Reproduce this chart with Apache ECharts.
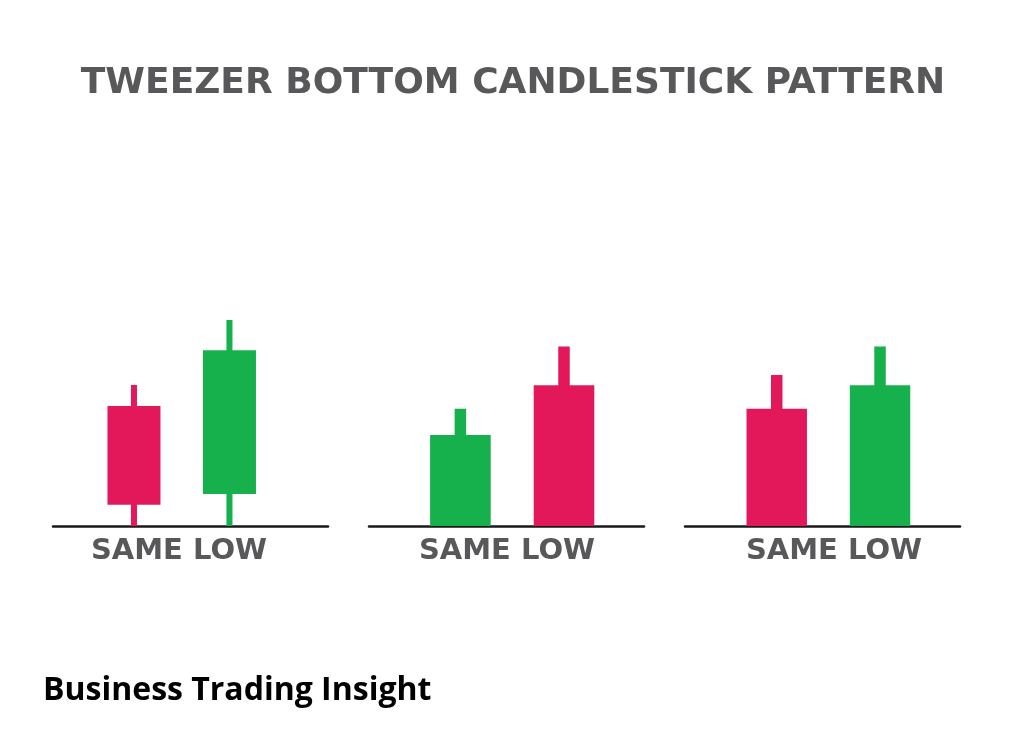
<!DOCTYPE html>
<html>
<head>
<meta charset="utf-8">
<title>Tweezer Bottom Candlestick Pattern</title>
<script src="https://cdn.jsdelivr.net/npm/echarts@6/dist/echarts.min.js"></script>
<style>
	html, body { margin: 0; padding: 0; background: #fff; }
	#chart { width: 1024px; height: 731px; }
</style>
</head>
<body>
<div id="chart"></div>
<script>
// candle slots on each panel's x axis
var candleSlots = [1, 2];

// panel 1: bearish then bullish, both wicks reach the same low
var panel1Open = [40, 10.7];
var panel1Close = [7.1, 58.6];
var panel1Low = [0, 0];
var panel1High = [47, 68.7];

// panel 2: bullish then bearish, bodies sit on the low
var panel2Open = [0, 46.9];
var panel2Close = [30.3, 0];
var panel2Low = [0, 0];
var panel2High = [39.1, 59.8];

// panel 3: bearish then bullish, bodies sit on the low
var panel3Open = [39.1, 0];
var panel3Close = [0, 46.9];
var panel3Low = [0, 0];
var panel3High = [50.3, 59.8];

var titleText = 'TWEEZER BOTTOM CANDLESTICK PATTERN';
var panelLabels = ['SAME LOW', 'SAME LOW', 'SAME LOW'];
var footerText = 'Business Trading Insight';

var RED = '#e2185b';
var GREEN = '#16b04c';
var GRAY = '#58585a';

function buildRows(open, close, low, high) {
	var rows = [];
	for (var i = 0; i < candleSlots.length; i++) {
		rows.push([candleSlots[i], open[i], close[i], low[i], high[i]]);
	}
	return rows;
}

// body and wick widths are given as a share of one slot
function candleItem(bodyRatio, wickRatio) {
	return function(params, api) {
		var x = api.value(0);
		var open = api.value(1);
		var close = api.value(2);
		var unit = api.size([1, 0])[0];
		var bodyW = unit * bodyRatio;
		var wickW = unit * wickRatio;
		var pTop = api.coord([x, Math.max(open, close)]);
		var pBot = api.coord([x, Math.min(open, close)]);
		var pHigh = api.coord([x, api.value(4)]);
		var pLow = api.coord([x, api.value(3)]);
		var color = close >= open ? GREEN : RED;
		return {
			type: 'group',
			children: [{
				type: 'rect',
				shape: { x: pHigh[0] - wickW / 2, y: pHigh[1], width: wickW, height: pLow[1] - pHigh[1] },
				style: { fill: color }
			}, {
				type: 'rect',
				shape: { x: pTop[0] - bodyW / 2, y: pTop[1], width: bodyW, height: pBot[1] - pTop[1] },
				style: { fill: color }
			}]
		};
	};
}

var panels = [
	{ left: 53, min: 0.152, max: 3.032, body: 0.555, wick: 0.063, labelX: 179, rows: buildRows(panel1Open, panel1Close, panel1Low, panel1High) },
	{ left: 369, min: 0.118, max: 2.772, body: 0.585, wick: 0.111, labelX: 507, rows: buildRows(panel2Open, panel2Close, panel2Low, panel2High) },
	{ left: 685, min: 0.112, max: 2.774, body: 0.585, wick: 0.111, labelX: 834, rows: buildRows(panel3Open, panel3Close, panel3Low, panel3High) }
];

var grids = [], xAxes = [], yAxes = [], series = [];
var texts = [{
	type: 'text',
	x: 513,
	y: 84,
	style: {
		text: titleText,
		fill: GRAY,
		font: 'bold 36px "DejaVu Sans"',
		align: 'center',
		verticalAlign: 'middle'
	}
}, {
	type: 'text',
	x: 43,
	y: 691,
	style: {
		text: footerText,
		fill: '#000',
		font: 'bold 32px "Open Sans"',
		align: 'left',
		verticalAlign: 'middle'
	}
}];

panels.forEach(function(p, i) {
	grids.push({ left: p.left, width: 275, top: 226, bottom: 205 });
	xAxes.push({
		type: 'value',
		gridIndex: i,
		min: p.min,
		max: p.max,
		axisLine: { show: true, lineStyle: { color: '#1a1a1a', width: 2.5 } },
		axisTick: { show: false },
		axisLabel: { show: false },
		splitLine: { show: false }
	});
	yAxes.push({
		type: 'value',
		gridIndex: i,
		min: 0,
		max: 100,
		show: false,
		splitLine: { show: false }
	});
	series.push({
		type: 'custom',
		xAxisIndex: i,
		yAxisIndex: i,
		renderItem: candleItem(p.body, p.wick),
		encode: { x: 0, y: [1, 2, 3, 4] },
		data: p.rows,
		silent: true,
		animation: false
	});
	texts.push({
		type: 'text',
		x: p.labelX,
		y: 551,
		style: {
			text: panelLabels[i],
			fill: GRAY,
			font: 'bold 29px "DejaVu Sans"',
			align: 'center',
			verticalAlign: 'middle'
		}
	});
});

var myChart = echarts.init(document.getElementById('chart'));
var option = {
	backgroundColor: '#fff',
	animation: false,
	grid: grids,
	xAxis: xAxes,
	yAxis: yAxes,
	series: series,
	graphic: texts
};
myChart.setOption(option);
</script>
</body>
</html>
